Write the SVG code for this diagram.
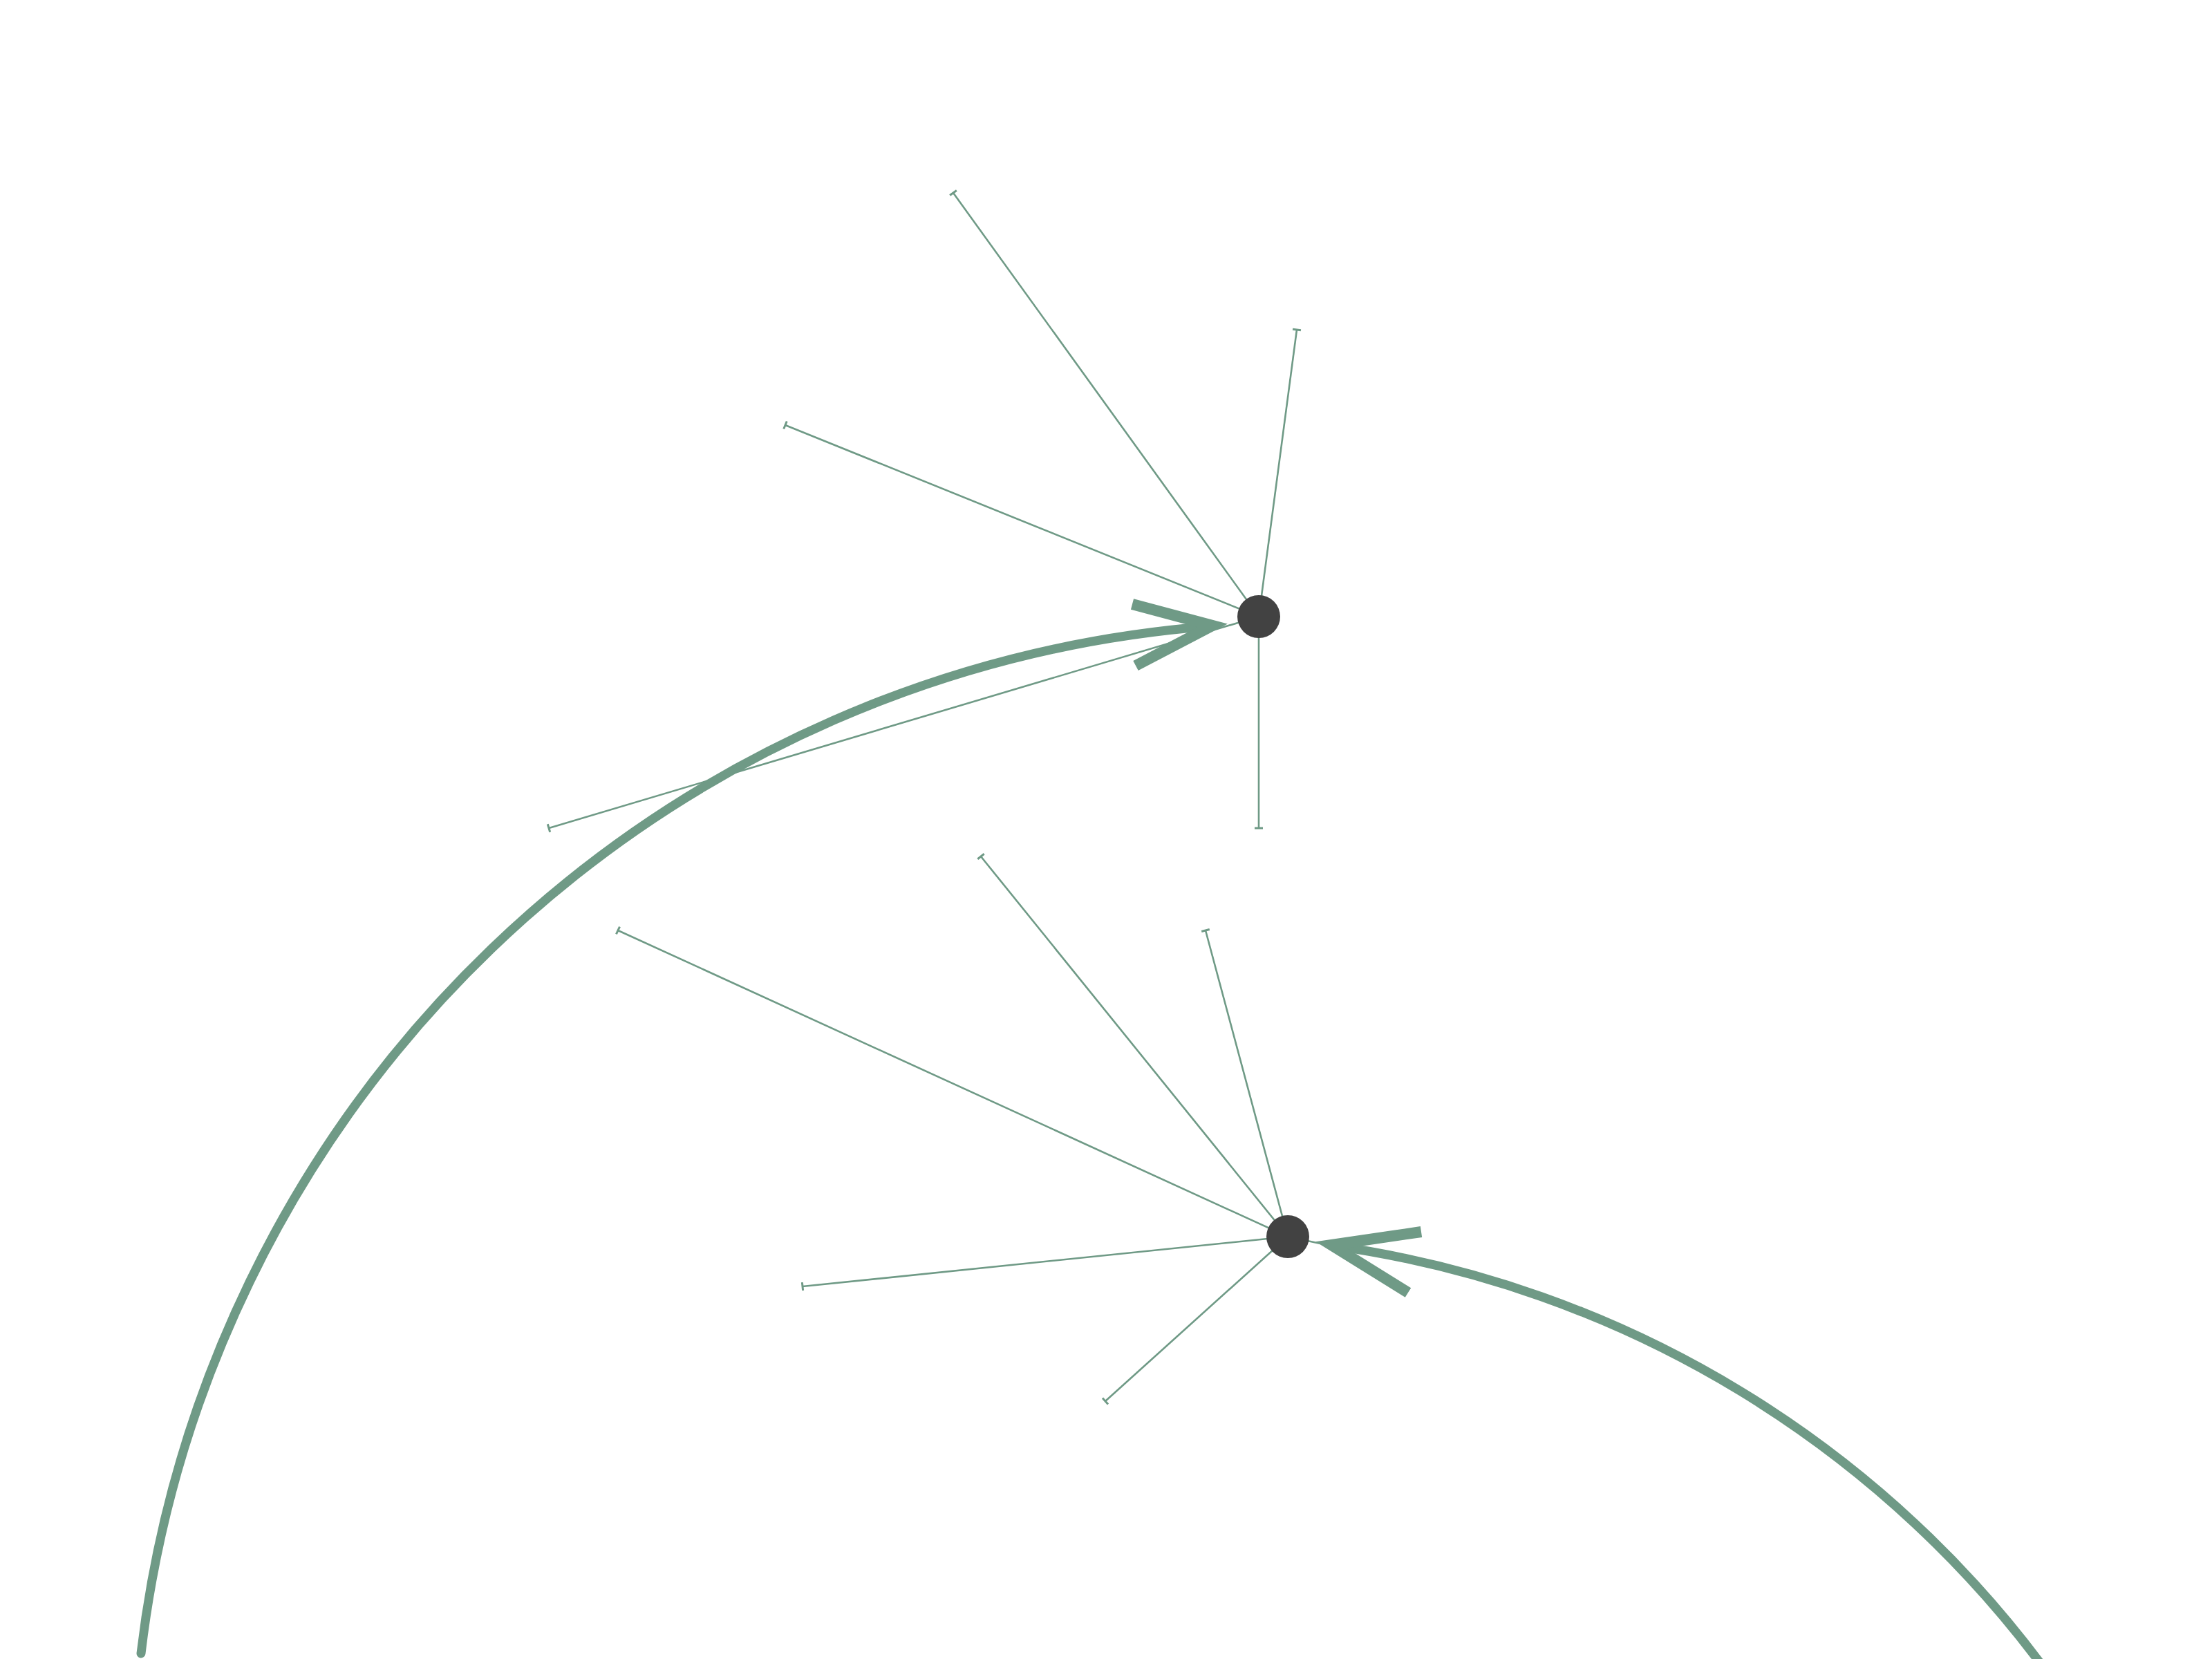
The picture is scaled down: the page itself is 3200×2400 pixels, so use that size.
<svg xmlns="http://www.w3.org/2000/svg" width="3200" height="2400" viewBox="0 0 3200 2400">
<style>
.spoke{fill:none;stroke:#6f9a86;stroke-width:2.6;marker-end:url(#tee)}
.curve{fill:none;stroke:#6f9a86;stroke-width:13;stroke-linecap:round}
.head{fill:none;stroke:#6f9a86;stroke-width:16;stroke-linecap:butt;stroke-linejoin:miter;stroke-miterlimit:6}
.thin{fill:none;stroke:#6f9a86;stroke-width:2.6}
.node{fill:#424242}
</style>
<defs>
<marker id="tee" markerUnits="userSpaceOnUse" viewBox="0 0 20 20" markerWidth="20" markerHeight="20" refX="10" refY="10" orient="auto">
<path d="M10,4 L10,16" stroke="#6f9a86" stroke-width="3" fill="none"/>
</marker>
</defs>
<rect width="3200" height="2400" fill="#ffffff"/>
<g id="connectors">
<path class="spoke" d="M1821,892 L1379,279"/>
<path class="spoke" d="M1821,892 L1876,477"/>
<path class="spoke" d="M1821,892 L1136,615"/>
<path class="spoke" d="M1821,892 L794,1198"/>
<path class="spoke" d="M1821,892 L1821,1198"/>
<path class="spoke" d="M1863,1789 L1419,1239"/>
<path class="spoke" d="M1863,1789 L1744,1346"/>
<path class="spoke" d="M1863,1789 L894,1346"/>
<path class="spoke" d="M1863,1789 L1161,1861"/>
<path class="spoke" d="M1863,1789 L1599,2027"/>
<path class="curve" d="M204,2392 A1690,1690 0 0 1 1750,906"/>
<path class="head" d="M1638,874 L1754,905 L1643,963"/>
<path class="thin" d="M1863,1789 L1910,1799"/>
<path class="curve" d="M2975,2438 A1548,1548 0 0 0 1928,1802"/>
<path class="head" d="M2056,1782 L1926,1801 L2037,1870"/>
</g>
<g id="node-top"><circle class="node" cx="1821" cy="892" r="31"/></g>
<g id="node-bottom"><circle class="node" cx="1863" cy="1789" r="31"/></g>
</svg>
